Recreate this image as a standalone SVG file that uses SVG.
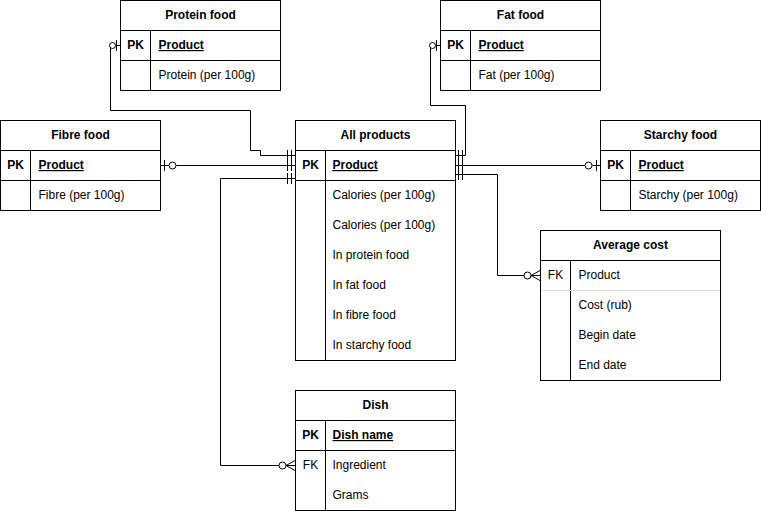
<svg xmlns="http://www.w3.org/2000/svg" width="761" height="511" viewBox="0 0 761 511">
<style>
.box{fill:#fff;stroke:#000;stroke-width:1}
.ln{fill:none;stroke:#000;stroke-width:1}
.sep{fill:none;stroke:#e0e0e0;stroke-width:1}
text{font-family:"Liberation Sans",Arial,sans-serif;font-size:12px;fill:#000}
.h{font-weight:bold;text-anchor:middle}
.k{text-anchor:middle}
.kb{font-weight:bold;text-anchor:middle}
.pk{font-weight:bold;text-decoration:underline}
.circ{fill:#fff;stroke:#000;stroke-width:1}
</style>
<rect width="761" height="511" fill="#fff"/>
<g id="connectors">
  <!-- Protein -->
  <path class="ln" d="M120.5,45.5 H110.5 V110.5 H250.5 V150.5 H260.5 V155.5 H295"/>
  <path class="ln" d="M116.5,40 V51"/>
  <circle class="circ" cx="112.5" cy="45.5" r="3"/>
  <path class="ln" d="M287.5,150 V161 M291.5,150 V161"/>
  <!-- Fibre -->
  <path class="ln" d="M160,165.5 H295"/>
  <path class="ln" d="M164.5,160 V171"/>
  <circle class="circ" cx="172.5" cy="165.5" r="3.5"/>
  <path class="ln" d="M287.5,160 V171 M291.5,160 V171"/>
  <!-- Dish -->
  <path class="ln" d="M295,178.5 H220.5 V465.5 H295"/>
  <path class="ln" d="M287.5,173 V184 M291.5,173 V184"/>
  <path class="ln" d="M286,465.5 L295,460.5 M286,465.5 L295,465.5 M286,465.5 L295,470.5"/>
  <circle class="circ" cx="282.5" cy="465.5" r="3.5"/>
  <!-- Fat -->
  <path class="ln" d="M440.5,45.5 H430.5 V105.5 H465.5 V155.5 H455"/>
  <path class="ln" d="M436.5,40 V51"/>
  <circle class="circ" cx="432.5" cy="45.5" r="3"/>
  <path class="ln" d="M458.5,150 V161 M462.5,150 V161"/>
  <!-- Starchy -->
  <path class="ln" d="M455,165.5 H600"/>
  <path class="ln" d="M458.5,160 V171 M462.5,160 V171"/>
  <path class="ln" d="M596.5,160 V171"/>
  <circle class="circ" cx="588.5" cy="165.5" r="3.5"/>
  <!-- Average cost -->
  <path class="ln" d="M455,174.5 H497.5 V275.5 H540"/>
  <path class="ln" d="M458.5,169 V180 M462.5,169 V180"/>
  <path class="ln" d="M531,275.5 L540,270.5 M531,275.5 L540,275.5 M531,275.5 L540,280.5"/>
  <circle class="circ" cx="527.5" cy="275.5" r="3.5"/>
</g>
<g id="protein-food">
  <rect class="box" x="120.5" y="0.5" width="160" height="90"/>
  <path class="ln" d="M120.5,30.5 H280.5 M120.5,60.5 H280.5 M150.5,30.5 V90.5"/>
  <text class="h" x="200.5" y="19">Protein food</text>
  <text class="kb" x="135.5" y="49">PK</text>
  <text class="pk" x="158.5" y="49">Product</text>
  <text x="158.5" y="79">Protein (per 100g)</text>
</g>
<g id="fat-food">
  <rect class="box" x="440.5" y="0.5" width="160" height="90"/>
  <path class="ln" d="M440.5,30.5 H600.5 M440.5,60.5 H600.5 M470.5,30.5 V90.5"/>
  <text class="h" x="520.5" y="19">Fat food</text>
  <text class="kb" x="455.5" y="49">PK</text>
  <text class="pk" x="478.5" y="49">Product</text>
  <text x="478.5" y="79">Fat (per 100g)</text>
</g>
<g id="fibre-food">
  <rect class="box" x="0.5" y="120.5" width="160" height="90"/>
  <path class="ln" d="M0.5,150.5 H160.5 M0.5,180.5 H160.5 M30.5,150.5 V210.5"/>
  <text class="h" x="80.5" y="139">Fibre food</text>
  <text class="kb" x="15.5" y="169">PK</text>
  <text class="pk" x="38.5" y="169">Product</text>
  <text x="38.5" y="199">Fibre (per 100g)</text>
</g>
<g id="starchy-food">
  <rect class="box" x="600.5" y="120.5" width="160" height="90"/>
  <path class="ln" d="M600.5,150.5 H760.5 M600.5,180.5 H760.5 M630.5,150.5 V210.5"/>
  <text class="h" x="680.5" y="139">Starchy food</text>
  <text class="kb" x="615.5" y="169">PK</text>
  <text class="pk" x="638.5" y="169">Product</text>
  <text x="638.5" y="199">Starchy (per 100g)</text>
</g>
<g id="all-products">
  <rect class="box" x="295.5" y="120.5" width="160" height="240"/>
  <path class="ln" d="M295.5,150.5 H455.5 M295.5,180.5 H455.5 M325.5,150.5 V360.5"/>
  <text class="h" x="375.5" y="139">All products</text>
  <text class="kb" x="310.5" y="169">PK</text>
  <text class="pk" x="332.5" y="169">Product</text>
  <text x="332.5" y="199">Calories (per 100g)</text>
  <text x="332.5" y="229">Calories (per 100g)</text>
  <text x="332.5" y="259">In protein food</text>
  <text x="332.5" y="289">In fat food</text>
  <text x="332.5" y="319">In fibre food</text>
  <text x="332.5" y="349">In starchy food</text>
</g>
<g id="average-cost">
  <rect class="box" x="540.5" y="230.5" width="180" height="150"/>
  <path class="ln" d="M540.5,260.5 H720.5 M570.5,260.5 V380.5"/>
  <path class="sep" d="M541,290.5 H720"/>
  <text class="h" x="630.5" y="249">Average cost</text>
  <text class="k" x="555.5" y="279">FK</text>
  <text x="578.5" y="279">Product</text>
  <text x="578.5" y="309">Cost (rub)</text>
  <text x="578.5" y="339">Begin date</text>
  <text x="578.5" y="369">End date</text>
</g>
<g id="dish">
  <rect class="box" x="295.5" y="390.5" width="160" height="120"/>
  <path class="ln" d="M295.5,420.5 H455.5 M295.5,450.5 H455.5 M325.5,420.5 V510.5"/>
  <text class="h" x="375.5" y="409">Dish</text>
  <text class="kb" x="310.5" y="439">PK</text>
  <text class="pk" x="332.5" y="439">Dish name</text>
  <text class="k" x="310.5" y="469">FK</text>
  <text x="332.5" y="469">Ingredient</text>
  <text x="332.5" y="499">Grams</text>
</g>
</svg>
